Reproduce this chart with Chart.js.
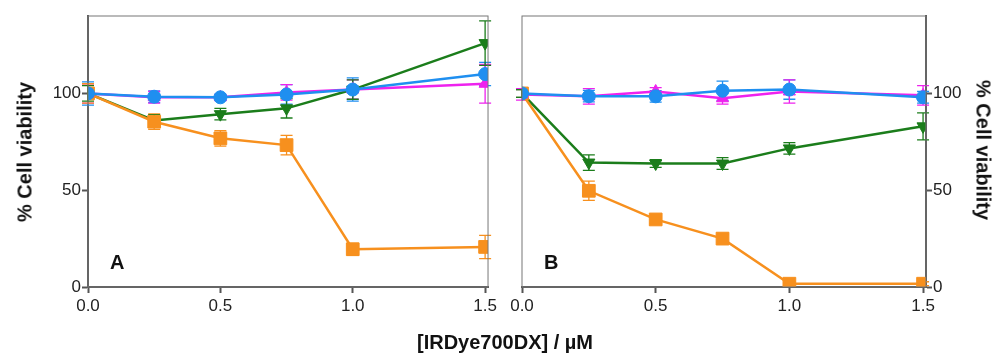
<!DOCTYPE html>
<html>
<head>
<meta charset="utf-8">
<script src="https://cdn.jsdelivr.net/npm/chart.js@4"></script>
<style>
  body { margin: 0; background: #fff; }
  #wrap { position: relative; width: 1000px; height: 356px; overflow: hidden; font-family: "Liberation Sans", Arial, sans-serif; }
  .panel { position: absolute; top: 0; width: 500px; height: 356px; }
  .ytitle { position: absolute; font-weight: bold; font-size: 20px; color: #111; white-space: nowrap; }
  #xtitle { position: absolute; left: 0; width: 1010px; top: 331px; text-align: center; font-weight: bold; font-size: 20px; color: #111; }
</style>
</head>
<body>
<div id="wrap">
  <div class="panel" style="left:0"><canvas id="chartA" width="500" height="356"></canvas></div>
  <div class="panel" style="left:500px"><canvas id="chartB" width="500" height="356"></canvas></div>
  <div class="ytitle" style="left:25px; top:152px; transform: translate(-50%,-50%) rotate(-90deg);">% Cell viability</div>
  <div class="ytitle" style="left:983px; top:150px; transform: translate(-50%,-50%) rotate(90deg);">% Cell viability</div>
  <div id="xtitle">[IRDye700DX] / µM</div>
</div>
<script>
const doses = [0, 0.25, 0.5, 0.75, 1.0, 1.5];
const xTicks = [0, 0.5, 1.0, 1.5];
const yTicks = [0, 50, 100];

// Panel A
const aBlue = [100, 98.3, 98, 99.5, 102, 110];
const aBlueErr = [6, 3, 1.5, 5, 6, 6];
const aMagenta = [100, 98, 98, 100.5, 102, 105];
const aMagentaErr = [5, 3, 1.5, 4, 5, 10];
const aGreen = [100, 86, 89.3, 92.3, 102, 126];
const aGreenErr = [4, 3, 3, 5, 5, 11.5];
const aOrange = [100, 85.4, 76.8, 73.3, 19.5, 20.7];
const aOrangeErr = [5, 4, 4, 5, 3, 6];

// Panel B
const bBlue = [100, 98.6, 98.5, 101.4, 102, 98];
const bBlueErr = [2, 3, 3, 5, 5, 3];
const bMagenta = [99.5, 98.5, 101, 97.5, 101, 99];
const bMagentaErr = [3, 4, 2, 3, 6, 5];
const bGreen = [100, 64.3, 63.8, 63.8, 71.6, 83];
const bGreenErr = [2, 4, 2, 3, 3, 7];
const bOrange = [100, 49.7, 34.9, 25, 1.7, 1.7];
const bOrangeErr = [2, 5, 2, 2, 1, 1];

const BLUE = '#1f8ff0';
const MAGENTA = '#ee22ee';
const GREEN = '#1b7d1b';
const ORANGE = '#f7901e';
const AXIS = '#555';

function series(vals, errs, color, style, rotation, radius) {
    return {
        data: vals.map((v, i) => ({ x: doses[i], y: v })),
        errors: errs,
        borderColor: color,
        backgroundColor: color,
        borderWidth: 2.5,
        pointStyle: style,
        rotation: rotation,
        pointRadius: radius,
        pointBorderWidth: 1,
        tension: 0
    };
}

// error bars + frame, drawn with the chart's own scales
const errorBars = {
    id: 'errorBars',
    beforeDatasetsDraw(chart) {
        const { ctx, scales: { x, y } } = chart;
        ctx.save();
        chart.data.datasets.forEach(ds => {
            ctx.strokeStyle = ds.borderColor;
            ctx.lineWidth = 1.3;
            ds.data.forEach((p, i) => {
                const e = ds.errors[i];
                const px = x.getPixelForValue(p.x);
                const top = y.getPixelForValue(p.y + e);
                const bot = y.getPixelForValue(p.y - e);
                ctx.beginPath();
                ctx.moveTo(px, top); ctx.lineTo(px, bot);
                ctx.moveTo(px - 6, top); ctx.lineTo(px + 6, top);
                ctx.moveTo(px - 6, bot); ctx.lineTo(px + 6, bot);
                ctx.stroke();
            });
        });
        ctx.restore();
    },
    afterDraw(chart) {
        const { ctx, chartArea: a } = chart;
        ctx.save();
        ctx.strokeStyle = '#777';
        ctx.lineWidth = 1;
        ctx.strokeRect(a.left, a.top, a.right - a.left, a.bottom - a.top);
        ctx.fillStyle = '#111';
        ctx.font = 'bold 20px "Liberation Sans", Arial, sans-serif';
        ctx.textBaseline = 'middle';
        ctx.fillText(chart.options.panelLabel, a.left + chart.options.labelDx, 263);
        ctx.restore();
    }
};

function makeChart(id, datasets, side, padding, yWidth, labelDx, label) {
    return new Chart(document.getElementById(id), {
        type: 'line',
        data: { datasets },
        plugins: [errorBars],
        options: {
            responsive: false,
            animation: false,
            panelLabel: label,
            labelDx: labelDx,
            layout: { padding },
            plugins: { legend: { display: false }, tooltip: { enabled: false } },
            scales: {
                x: {
                    type: 'linear',
                    min: 0,
                    max: 1.511,
                    afterBuildTicks: s => { s.ticks = xTicks.map(v => ({ value: v })); },
                    afterFit: s => { s.height = 69; },
                    border: { color: AXIS, width: 2 },
                    grid: { drawOnChartArea: false, tickLength: 6, tickColor: AXIS, tickWidth: 2 },
                    ticks: {
                        color: '#222',
                        padding: 3,
                        font: { size: 17, family: '"Liberation Sans", Arial, sans-serif' },
                        callback: v => v.toFixed(1)
                    }
                },
                y: {
                    position: side,
                    min: 0,
                    max: 140,
                    afterBuildTicks: s => { s.ticks = yTicks.map(v => ({ value: v })); },
                    afterFit: s => { s.width = yWidth; },
                    border: { color: AXIS, width: 2 },
                    grid: { drawOnChartArea: false, tickLength: 6, tickColor: AXIS, tickWidth: 2 },
                    ticks: {
                        color: '#222',
                        padding: 1,
                        font: { size: 17, family: '"Liberation Sans", Arial, sans-serif' }
                    }
                }
            }
        }
    });
}

makeChart('chartA', [
    series(aBlue, aBlueErr, BLUE, 'circle', 0, 6.5),
    series(aMagenta, aMagentaErr, MAGENTA, 'triangle', 0, 7),
    series(aOrange, aOrangeErr, ORANGE, 'rect', 0, 9),
    series(aGreen, aGreenErr, GREEN, 'triangle', 180, 7)
], 'left', { top: 16, right: 8, left: 0, bottom: 0 }, 88, 22, 'A');

makeChart('chartB', [
    series(bBlue, bBlueErr, BLUE, 'circle', 0, 6.5),
    series(bMagenta, bMagentaErr, MAGENTA, 'triangle', 0, 7),
    series(bOrange, bOrangeErr, ORANGE, 'rect', 0, 9),
    series(bGreen, bGreenErr, GREEN, 'triangle', 180, 7)
], 'right', { top: 16, right: 0, left: 22, bottom: 0 }, 74, 22, 'B');
</script>
</body>
</html>
